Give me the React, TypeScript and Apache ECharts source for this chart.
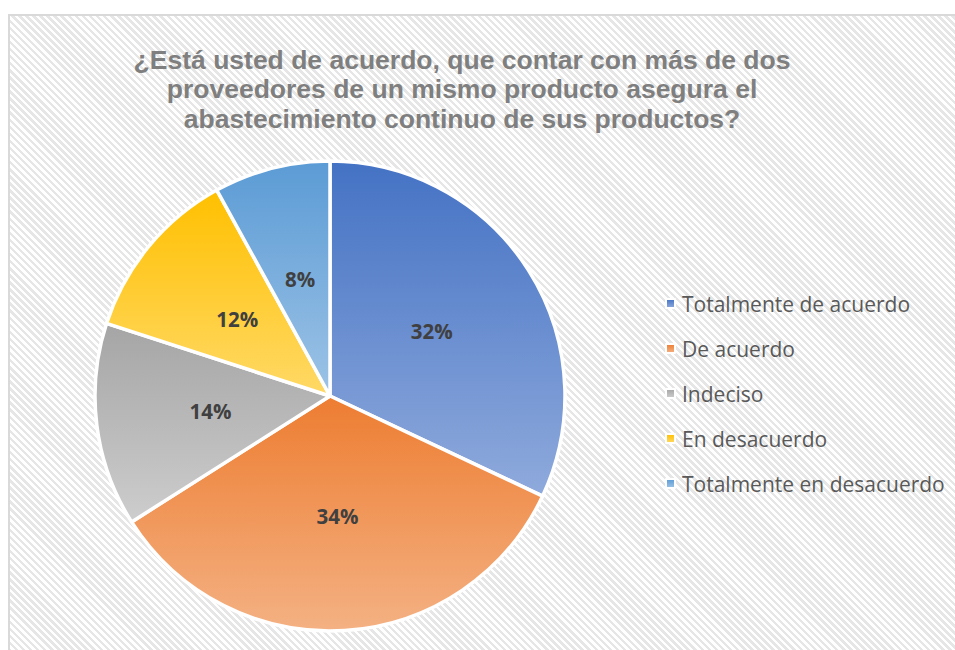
import React, { useEffect, useRef } from "react";
import * as echarts from "echarts";

const titleText =
  "¿Está usted de acuerdo, que contar con más de dos\nproveedores de un mismo producto asegura el\nabastecimiento continuo de sus productos?";
const categories = [
  "Totalmente de acuerdo",
  "De acuerdo",
  "Indeciso",
  "En desacuerdo",
  "Totalmente en desacuerdo",
];
const values = [32, 34, 14, 12, 8];
const topColors = ["#4472C4", "#ED7D31", "#A5A5A5", "#FFC000", "#5B9BD5"];
const bottomColors = ["#8FAADC", "#F4B183", "#CDCDCD", "#FFD966", "#9DC3E6"];

export default function App() {
  const ref = useRef<HTMLDivElement>(null);
  useEffect(() => {
    if (!ref.current) return;
    const chart = echarts.init(ref.current, null, { renderer: "svg" });
    const grad = (i: number) =>
      new echarts.graphic.LinearGradient(0, 0, 0, 1, [
        { offset: 0, color: topColors[i] },
        { offset: 1, color: bottomColors[i] },
      ]);
    const data = categories.map((name, i) => ({
      name,
      value: values[i],
      itemStyle: { color: grad(i) },
    }));
    chart.setOption({
      animation: false,
      backgroundColor: "transparent",
      title: {
        text: titleText,
        left: 457,
        textAlign: "center",
        top: 40,
        textStyle: {
          fontFamily: "Liberation Sans, Arial, sans-serif",
          fontWeight: "bold",
          fontSize: 26.5,
          lineHeight: 29.5,
          color: "#7F7F7F",
        },
      },
      legend: {
        orient: "vertical",
        left: 660,
        top: 287,
        itemWidth: 9,
        itemHeight: 9,
        itemGap: 22,
        icon: "rect",
        data: categories.map((name, i) => ({
          name,
          itemStyle: { color: grad(i) },
        })),
        textStyle: {
          fontFamily: "Open Sans, Noto Sans, sans-serif",
          fontSize: 21,
          lineHeight: 23,
          color: "#595959",
          padding: [0, 0, 0, 2],
        },
        selectedMode: false,
      },
      series: [
        {
          type: "pie",
          center: [330, 396],
          radius: [0, 235],
          startAngle: 90,
          clockwise: true,
          data,
          itemStyle: {
            borderColor: "#FFFFFF",
            borderWidth: 3.5,
          },
          label: {
            show: true,
            position: "inside",
            formatter: "{c}%",
            fontFamily: "Open Sans, Noto Sans, sans-serif",
            fontWeight: "bold",
            fontSize: 20.5,
            color: "#404040",
          },
          labelLine: { show: false },
          emphasis: { disabled: true },
        },
      ],
    });
    return () => chart.dispose();
  }, []);

  return (
    <div
      style={{
        position: "fixed",
        left: 0,
        top: 0,
        width: 955,
        height: 650,
        background: "#FFFFFF",
        overflow: "hidden",
      }}
    >
      <div
        style={{
          position: "absolute",
          left: 8,
          top: 14,
          width: 980,
          height: 700,
          boxSizing: "border-box",
          border: "2px solid #D9D9D9",
          background:
            "repeating-linear-gradient(45deg, #FFFFFF 0px, #FFFFFF 2.5px, #E6E6E6 2.5px, #E6E6E6 5px)",
        }}
      />
      <div
        ref={ref}
        style={{ position: "absolute", left: 0, top: 0, width: 955, height: 650 }}
      />
    </div>
  );
}
